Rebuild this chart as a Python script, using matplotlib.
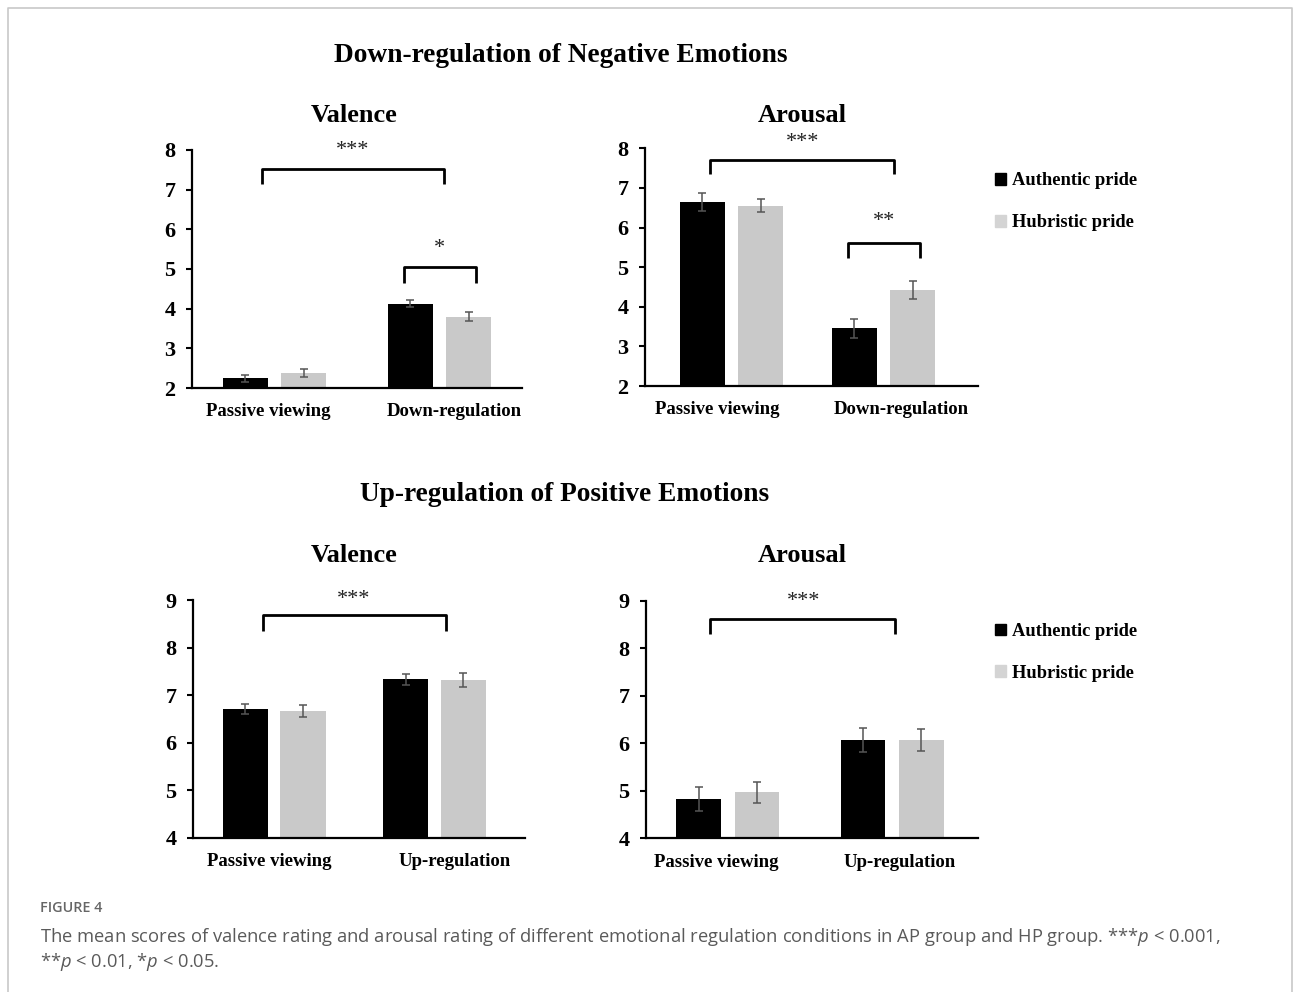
import numpy as np
import matplotlib.pyplot as plt
from matplotlib.patches import Patch
from matplotlib.lines import Line2D

plt.rcParams['font.family'] = ['Liberation Serif', 'DejaVu Serif']
plt.rcParams['font.weight'] = 'bold'
plt.rcParams['mathtext.fontset'] = 'custom'
plt.rcParams['mathtext.rm'] = 'Open Sans:normal'
plt.rcParams['mathtext.it'] = 'Open Sans:italic:normal'

# ---- data ----
groups = ['Authentic pride', 'Hubristic pride']
down_conditions = ['Passive viewing', 'Down-regulation']
up_conditions = ['Passive viewing', 'Up-regulation']

down_valence_ap = [2.24, 4.13]
down_valence_hp = [2.37, 3.80]
down_valence_ap_se = [0.10, 0.09]
down_valence_hp_se = [0.10, 0.11]

down_arousal_ap = [6.65, 3.46]
down_arousal_hp = [6.55, 4.42]
down_arousal_ap_se = [0.23, 0.24]
down_arousal_hp_se = [0.16, 0.22]

up_valence_ap = [6.71, 7.33]
up_valence_hp = [6.67, 7.32]
up_valence_ap_se = [0.11, 0.12]
up_valence_hp_se = [0.13, 0.14]

up_arousal_ap = [4.83, 6.07]
up_arousal_hp = [4.97, 6.07]
up_arousal_ap_se = [0.25, 0.26]
up_arousal_hp_se = [0.22, 0.24]

AP_COLOR = 'black'
HP_COLOR = '#c9c9c9'
ERR_COLOR = '#555555'


def draw_panel(ax, cats, ap, hp, ap_se, hp_se, ylim, xlim, off, width,
               label_x, brackets):
    '''
    Draws one bar panel with error bars and significance brackets.
    '''
    x = np.arange(len(cats))
    ax.bar(x - off, ap, width, color=AP_COLOR, zorder=2)
    ax.bar(x + off, hp, width, color=HP_COLOR, zorder=2)
    ax.errorbar(x - off, ap, yerr=ap_se, fmt='none', ecolor=ERR_COLOR,
                elinewidth=1.1, capsize=3.2, capthick=1.1, zorder=3)
    ax.errorbar(x + off, hp, yerr=hp_se, fmt='none', ecolor=ERR_COLOR,
                elinewidth=1.1, capsize=3.2, capthick=1.1, zorder=3)

    ax.set_xlim(*xlim)
    ax.set_ylim(*ylim)
    ax.set_yticks(np.arange(ylim[0], ylim[1] + 1))
    ax.set_xticks(label_x)
    ax.set_xticklabels(cats, fontsize=13.5, fontweight='bold')
    ax.tick_params(axis='x', length=0, pad=11)
    ax.tick_params(axis='y', length=4, width=1.5, labelsize=16, pad=8)
    for lab in ax.get_yticklabels():
        lab.set_fontweight('bold')

    for s in ['top', 'right']:
        ax.spines[s].set_visible(False)
    ax.spines['left'].set_linewidth(1.6)
    ax.spines['bottom'].set_linewidth(1.6)

    for x0, x1, ytop, yend, txt, tx, ty in brackets:
        ax.plot([x0, x0, x1, x1], [yend, ytop, ytop, yend], color='black',
                lw=2.0, clip_on=False, solid_capstyle='butt', zorder=4)
        ax.text(tx, ty, txt, ha='center', va='center', fontsize=16,
                fontweight='normal', color='#222222', clip_on=False)


fig = plt.figure(figsize=(12.93, 9.92), dpi=100)

W, H = 1293.0, 992.0


def px_axes(left, right, top, bottom):
    return fig.add_axes([left / W, 1 - bottom / H, (right - left) / W,
                         (bottom - top) / H])


ax1 = px_axes(192, 522, 150, 388)
draw_panel(ax1, down_conditions, down_valence_ap, down_valence_hp,
           down_valence_ap_se, down_valence_hp_se, (2, 8), (-0.5, 1.5),
           0.177, 0.27, [-0.04, 1.09],
           [(-0.078, 1.03, 7.53, 7.14, '***', 0.476, 7.98),
            (0.785, 1.22, 5.06, 4.64, '*', 1.0, 5.52)])

ax2 = px_axes(645, 978.3, 148.3, 386)
draw_panel(ax2, down_conditions, down_arousal_ap, down_arousal_hp,
           down_arousal_ap_se, down_arousal_hp_se, (2, 8), (-0.567, 1.621),
           0.192, 0.295, [-0.091, 1.118],
           [(-0.14, 1.068, 7.71, 7.35, '***', 0.468, 8.15),
            (0.764, 1.239, 5.6, 5.22, '**', 1.0, 6.15)])

ax3 = px_axes(193.3, 525, 600, 837.7)
draw_panel(ax3, up_conditions, up_valence_ap, up_valence_hp,
           up_valence_ap_se, up_valence_hp_se, (4, 9), (-0.505, 1.565),
           0.18, 0.284, [-0.031, 1.127],
           [(-0.072, 1.07, 8.69, 8.34, '***', 0.497, 9.02)])

ax4 = px_axes(646, 978.3, 600.7, 838.3)
draw_panel(ax4, up_conditions, up_arousal_ap, up_arousal_hp,
           up_arousal_ap_se, up_arousal_hp_se, (4, 9), (-0.497, 1.523),
           0.177, 0.27, [-0.073, 1.047],
           [(-0.108, 1.017, 8.61, 8.29, '***', 0.459, 8.98)])

handles = [Patch(color=AP_COLOR, label=groups[0]),
           Patch(color='#d4d4d4', label=groups[1])]
for ax, ytop in ((ax2, 172.3), (ax4, 623)):
    ax.legend(handles=handles, loc='upper left',
              bbox_to_anchor=(995 / W, 1 - ytop / H),
              bbox_transform=fig.transFigure,
              frameon=False, handlelength=0.62, handleheight=0.62,
              handletextpad=0.3, labelspacing=1.35, borderpad=0,
              borderaxespad=0, prop={'weight': 'bold', 'size': 13.3})

# titles
fig.text(561 / W, 1 - 55 / H, 'Down-regulation of Negative Emotions',
         ha='center', va='center', fontsize=19.7, fontweight='bold')
fig.text(565 / W, 1 - 494 / H, 'Up-regulation of Positive Emotions',
         ha='center', va='center', fontsize=19.7, fontweight='bold')
for xc, yc, t in [(354, 116, 'Valence'), (802, 116, 'Arousal'),
                  (354, 556, 'Valence'), (802, 556, 'Arousal')]:
    fig.text(xc / W, 1 - yc / H, t, ha='center', va='center', fontsize=19,
             fontweight='bold')

# caption
fig.text(40 / W, 1 - 908 / H, 'FIGURE 4', ha='left', va='center',
         fontsize=10.4, fontweight='semibold', color='#666666',
         family=['Open Sans', 'DejaVu Sans'])
fig.text(40 / W, 1 - 937 / H,
         'The mean scores of valence rating and arousal rating of different '
         'emotional regulation conditions in AP group and HP group. '
         r'***$p$ < 0.001,',
         ha='left', va='center', fontsize=13.2, fontweight='normal',
         color='#5a5a5a', family=['Open Sans', 'DejaVu Sans'])
fig.text(40 / W, 1 - 962 / H, r'**$p$ < 0.01, *$p$ < 0.05.',
         ha='left', va='center', fontsize=13.2, fontweight='normal',
         color='#5a5a5a', family=['Open Sans', 'DejaVu Sans'])

# frame around the figure
bc = '#c8c8c8'
fig.add_artist(Line2D([7.5 / W, 7.5 / W, 1291.5 / W, 1291.5 / W],
                      [0, 1 - 7.5 / H, 1 - 7.5 / H, 0],
                      transform=fig.transFigure, color=bc, lw=1.2))

fig.savefig('out.png', dpi=100)
